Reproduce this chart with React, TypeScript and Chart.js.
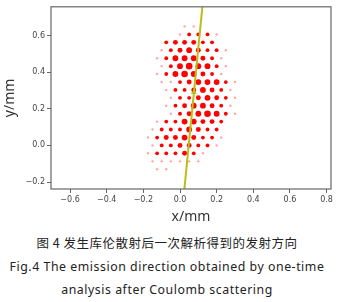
import { useEffect, useRef } from 'react';
import { Chart, registerables } from 'chart.js';

Chart.register(...registerables);

// Axis limits (mm)
const X_MIN = -0.704;
const X_MAX = 0.824;
const Y_MIN = -0.238;
const Y_MAX = 0.757;

const xTickValues = [-0.6, -0.4, -0.2, 0, 0.2, 0.4, 0.6, 0.8];
const xTickLabels = ['−0.6', '−0.4', '−0.2', '0.0', '0.2', '0.4', '0.6', '0.8'];
const yTickValues = [-0.2, 0, 0.2, 0.4, 0.6];
const yTickLabels = ['−0.2', '0.0', '0.2', '0.4', '0.6'];

// Hexagonal pixel grid: pitch along a row (mm)
const GRID_PITCH = 0.05;
// y of each pixel row (mm), top to bottom
const rowY = [0.65, 0.606, 0.563, 0.52, 0.476, 0.433, 0.39, 0.346, 0.303, 0.26, 0.217, 0.173, 0.13, 0.087, 0.043, 0.0, -0.043, -0.087, -0.13];
// x of the first hit pixel in each row (mm)
const rowStartX = [0.025, 0.0, -0.075, -0.1, -0.125, -0.1, -0.125, -0.1, -0.075, -0.05, -0.075, -0.05, -0.125, -0.15, -0.175, -0.15, -0.175, -0.15, -0.125];
// charge collected in each pixel (relative units)
const rowCounts = [
  [1, 1],
  [1, 2, 2, 2, 1],
  [2, 3, 3, 3, 2, 2],
  [1, 2, 3, 4, 3, 2, 2, 1],
  [1, 2, 4, 4, 4, 3, 2, 1],
  [1, 2, 4, 5, 4, 4, 2, 1],
  [1, 2, 4, 5, 4, 3, 2, 1],
  [1, 1, 2, 3, 4, 4, 4, 2, 1],
  [1, 2, 2, 3, 4, 3, 2, 1],
  [1, 2, 2, 3, 4, 3, 2, 1],
  [1, 2, 3, 4, 4, 3, 2, 1],
  [1, 2, 3, 4, 5, 4, 2, 1],
  [1, 2, 2, 4, 4, 3, 3, 2],
  [1, 2, 2, 2, 4, 3, 2, 2],
  [1, 2, 3, 3, 4, 3, 2, 2, 1],
  [1, 2, 2, 3, 3, 2, 2, 1],
  [1, 2, 2, 2, 3, 2, 1],
  [1, 1, 1, 1, 1, 1],
  [1, 1],
];

// Reconstructed emission direction (track) and emission point
const trackX = [0.024, 0.122];
const trackY = [-0.238, 0.757];
const emissionX = [0.076];
const emissionY = [0.29];

const TRACK_COLOR = '#bdbd1a';

const dotRadius = (c: number) => 1.7 * Math.sqrt(c) - 0.5;
const dotColor = (c: number) => (c <= 1 ? 'rgba(255,0,0,0.35)' : '#ff0000');

const framePlugin = {
  id: 'frame',
  afterDraw(chart: any) {
    const { ctx, chartArea } = chart;
    ctx.save();
    ctx.strokeStyle = '#666';
    ctx.lineWidth = 1.2;
    ctx.strokeRect(chartArea.left, chartArea.top, chartArea.right - chartArea.left, chartArea.bottom - chartArea.top);
    ctx.restore();
  },
};

export default function App() {
  const canvasRef = useRef<HTMLCanvasElement | null>(null);

  useEffect(() => {
    const canvas = canvasRef.current;
    if (!canvas) return;

    const hits: { x: number; y: number; c: number }[] = [];
    rowY.forEach((y, r) => {
      rowCounts[r].forEach((c, i) => {
        hits.push({ x: rowStartX[r] + i * GRID_PITCH, y, c });
      });
    });

    const track = trackX.map((x, i) => ({ x, y: trackY[i] }));
    const emission = emissionX.map((x, i) => ({ x, y: emissionY[i] }));
    const angle = (Math.atan2((trackX[1] - trackX[0]) * 183.3, (trackY[1] - trackY[0]) * 185) * 180) / Math.PI;

    const tickFont = { family: 'DejaVu Sans', size: 8 };
    const titleFont = { family: 'Noto Sans', size: 14 };

    const chart = new Chart(canvas, {
      type: 'scatter',
      data: {
        datasets: [
          {
            type: 'line',
            data: track,
            borderColor: TRACK_COLOR,
            borderWidth: 2,
            pointRadius: 0,
            order: 0,
          } as any,
          {
            data: emission,
            pointStyle: 'triangle',
            pointRadius: 3.5,
            rotation: angle,
            backgroundColor: TRACK_COLOR,
            borderColor: TRACK_COLOR,
            borderWidth: 0,
            order: 0,
          } as any,
          {
            data: hits,
            pointRadius: (ctx: any) => dotRadius(ctx.raw ? ctx.raw.c : 1),
            backgroundColor: (ctx: any) => dotColor(ctx.raw ? ctx.raw.c : 1),
            borderWidth: 0,
            order: 1,
          } as any,
        ],
      },
      options: {
        animation: false,
        responsive: false,
        maintainAspectRatio: false,
        layout: { padding: { top: 5, right: 32, left: 0, bottom: 0 } },
        plugins: { legend: { display: false }, tooltip: { enabled: false } },
        scales: {
          x: {
            type: 'linear',
            min: X_MIN,
            max: X_MAX,
            afterBuildTicks: (s: any) => {
              s.ticks = xTickValues.map((v) => ({ value: v }));
            },
            afterFit: (s: any) => {
              s.height = 39;
            },
            ticks: {
              callback: (_v: any, i: number) => xTickLabels[i],
              font: tickFont,
              color: '#444',
              padding: 2,
              maxRotation: 0,
              autoSkip: false,
            },
            grid: { drawOnChartArea: false, drawTicks: true, tickLength: 4, color: '#666' },
            border: { display: false },
            title: { display: true, text: 'x/mm', font: titleFont, color: '#333', padding: { top: 0, bottom: 3 } },
          },
          y: {
            type: 'linear',
            min: Y_MIN,
            max: Y_MAX,
            afterBuildTicks: (s: any) => {
              s.ticks = yTickValues.map((v) => ({ value: v }));
            },
            afterFit: (s: any) => {
              s.width = 51;
            },
            ticks: {
              callback: (_v: any, i: number) => yTickLabels[i],
              font: tickFont,
              color: '#444',
              padding: 2,
              autoSkip: false,
            },
            grid: { drawOnChartArea: false, drawTicks: true, tickLength: 4, color: '#666' },
            border: { display: false },
            title: { display: true, text: 'y/mm', font: titleFont, color: '#333', padding: { top: 2, bottom: 0 } },
          },
        },
      },
      plugins: [framePlugin],
    });

    return () => chart.destroy();
  }, []);

  const caption: any = {
    position: 'absolute',
    left: 0,
    width: 334,
    textAlign: 'center',
    color: '#222',
    whiteSpace: 'nowrap',
  };

  return (
    <div style={{ position: 'absolute', left: 0, top: 0, width: 363, height: 302, background: '#fff' }}>
      <canvas ref={canvasRef} width={363} height={228} style={{ display: 'block', width: 363, height: 228 }} />
      <div style={{ ...caption, top: 235, fontFamily: '"Noto Sans CJK SC"', fontSize: 12.5, letterSpacing: '0.5px', lineHeight: '16px' }}>
        图 4 发生库伦散射后一次解析得到的发射方向
      </div>
      <div style={{ ...caption, top: 259, fontFamily: '"Noto Sans"', fontSize: 12.3, letterSpacing: '0.55px', lineHeight: '16px' }}>
        Fig.4 The emission direction obtained by one-time
      </div>
      <div style={{ ...caption, top: 282, fontFamily: '"Noto Sans"', fontSize: 12.3, letterSpacing: '0.55px', lineHeight: '16px' }}>
        analysis after Coulomb scattering
      </div>
    </div>
  );
}
